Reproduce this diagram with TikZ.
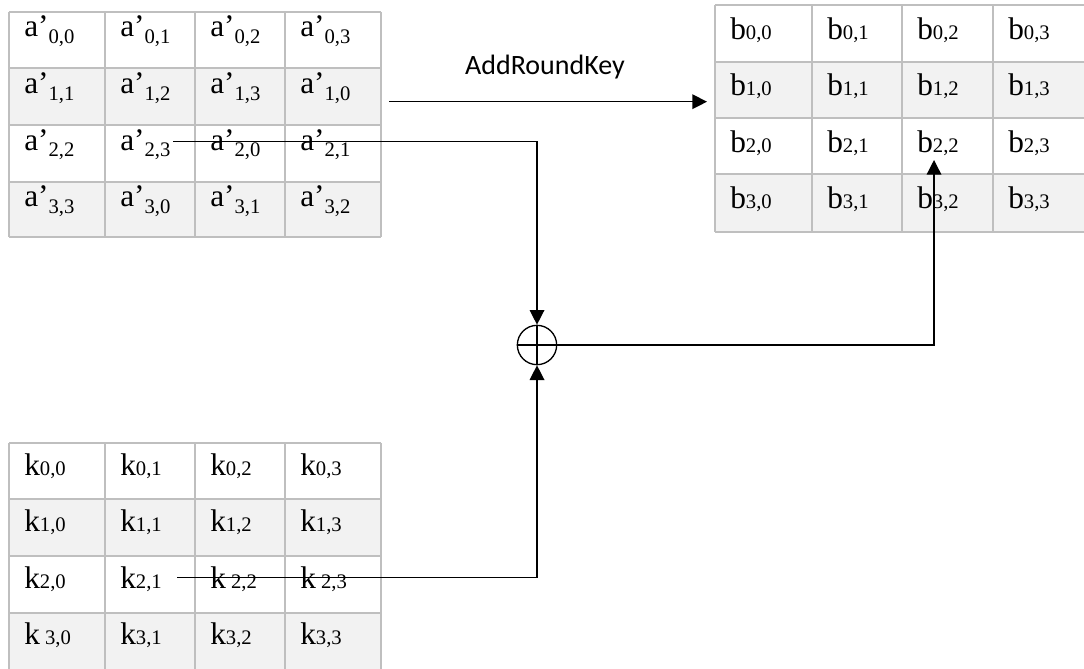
\documentclass[tikz,border=0pt]{standalone}
\usepackage{fontspec}
\setmainfont{Liberation Serif}
\newfontfamily\labelfont{Carlito}
\usetikzlibrary{arrows.meta,calc}
\definecolor{gridgray}{HTML}{BFBFBF}
\definecolor{rowgray}{HTML}{F2F2F2}
% state entry with a lowered index (a') and with an index on the baseline (b, k)
\newcommand\lowidx[1]{\raisebox{-5pt}{\fontsize{15.5}{18}\selectfont #1}}
\newcommand\baseidx[1]{{\fontsize{15.5}{18}\selectfont #1}}
\begin{document}
\begin{tikzpicture}[x=0.75pt,y=-0.75pt,
  cell/.style={anchor=base west, inner sep=0pt, font=\fontsize{23.5}{28}\selectfont},
  grid/.style={draw=gridgray, line width=0.9pt},
  conn/.style={draw=black, line width=1pt, -{Triangle[length=11pt,width=11pt]}},
  wire/.style={draw=black, line width=1pt}]
\useasboundingbox (0,0) rectangle (1084,668);

% ---- state a' (after ShiftRows) ----
\fill[rowgray] (9,68) rectangle (381,125);
\fill[rowgray] (9,182) rectangle (381,237);
\foreach \yy in {12,68,125,182,237} \draw[grid] (9,\yy) -- (381,\yy);
\foreach \xx in {9,105,195,285,381} \draw[grid] (\xx,12) -- (\xx,237);
\foreach \r in {0,...,3}
  \foreach \c/\xx in {0/24,1/120,2/210,3/300}{
    \pgfmathtruncatemacro\j{mod(\c+\r,4)}
    \node[cell] (a-\r-\c) at (\xx,36.7+56.7*\r) {a’\lowidx{\r,\j}};
  }

% ---- state b (result) ----
\fill[rowgray] (715,62) rectangle (1084,118);
\fill[rowgray] (715,174) rectangle (1084,232);
\foreach \yy in {5,62,118,174,232} \draw[grid] (715,\yy) -- (1084,\yy);
\foreach \xx in {715,812,902,993} \draw[grid] (\xx,5) -- (\xx,232);
\foreach \r in {0,...,3}
  \foreach \c/\xx in {0/730,1/827,2/917,3/1008}{
    \node[cell] (b-\r-\c) at (\xx,39+56.5*\r) {b\baseidx{\r,\c}};
  }

% ---- round key k ----
\fill[rowgray] (9,499) rectangle (381,556);
\fill[rowgray] (9,613) rectangle (381,672);
\foreach \yy in {443,499,556,613} \draw[grid] (9,\yy) -- (381,\yy);
\foreach \xx in {9,105,195,285,381} \draw[grid] (\xx,443) -- (\xx,672);
\foreach \r/\c/\t in {0/0/{0,0},0/1/{0,1},0/2/{0,2},0/3/{0,3},
                      1/0/{1,0},1/1/{1,1},1/2/{1,2},1/3/{1,3},
                      2/0/{2,0},2/1/{2,1},2/2/{ 2,2},2/3/{ 2,3},
                      3/0/{ 3,0},3/1/{3,1},3/2/{3,2},3/3/{3,3}}{
    \pgfmathsetmacro\xx{{24,120,210,300}[\c]}
    \node[cell] (k-\r-\c) at (\xx,475+56.5*\r) {k\baseidx{\t}};
  }

% ---- XOR and connectors ----
\node[draw, circle, line width=1pt, minimum size=29.5pt, inner sep=0pt] (xor) at (537,345) {};
\draw[wire] (xor.north) -- (xor.south);
\draw[wire] (xor.west) -- (xor.east);

\coordinate (afrom) at (173,141.7);
\coordinate (kfrom) at (177,577.7);
\coordinate (bin) at (934,160);
\coordinate (arkfrom) at (389,101.7);
\coordinate (arkto) at (707,101.7);

\draw[conn] (afrom) -| (xor.north);
\draw[conn] (kfrom) -| (xor.south);
\draw[conn] (xor.east) -| (bin);
\draw[conn] (arkfrom) -- (arkto);
\node[font=\labelfont\fontsize{21}{24}\selectfont, inner sep=0pt] (ark) at (545,67) {AddRoundKey};
\end{tikzpicture}
\end{document}
